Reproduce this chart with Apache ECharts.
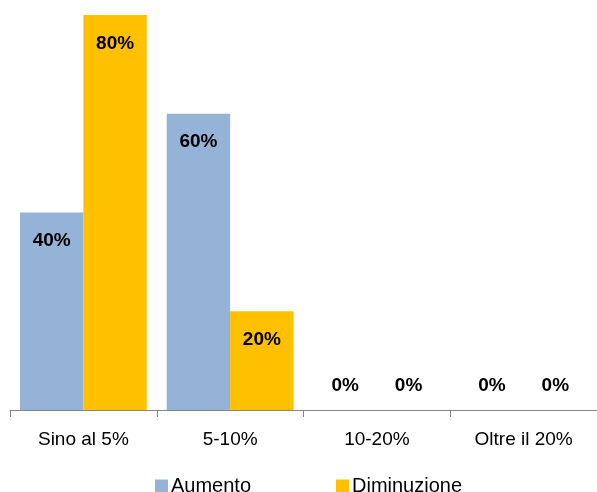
<!DOCTYPE html>
<html><head><meta charset="utf-8">
<script src="https://cdn.jsdelivr.net/npm/echarts@6/dist/echarts.min.js"></script>
<style>html,body{margin:0;padding:0;background:#fff}#c{width:597px;height:492px}</style>
</head><body><div id="c"></div>
<script>
var categories = ['Sino al 5%', '5-10%', '10-20%', 'Oltre il 20%'];
var aumento = [40, 60, 0, 0];
var diminuzione = [80, 20, 0, 0];
var seriesNames = ['Aumento', 'Diminuzione'];
var colors = ['#95B3D7', '#FFC000'];
var FONT = 'Liberation Sans';

function mk(vals) {
  return vals.map(function (v) {
    if (v === 0) return { value: v, label: { position: 'top', distance: 15 } };
    return v;
  });
}
function mkSeries(name, vals, color) {
  return {
    name: name, type: 'bar', data: mk(vals), barGap: '0%', barCategoryGap: '13.6%',
    itemStyle: { color: color },
    label: { show: true, position: 'insideTop', distance: 19, formatter: '{c}%',
      fontFamily: FONT, fontWeight: 'bold', fontSize: 19, color: '#000' }
  };
}
var chart = echarts.init(document.getElementById('c'));
chart.setOption({
  animation: false,
  grid: { left: 10, right: 0, top: 15, bottom: 82, containLabel: false },
  legend: [
    { data: [seriesNames[0]], left: 150, top: 471, itemWidth: 13, itemHeight: 13, itemGap: 5,
      icon: 'rect', textStyle: { fontFamily: FONT, fontSize: 20, color: '#000', padding: [0,0,0,-2] } },
    { data: [seriesNames[1]], left: 331, top: 471, itemWidth: 13, itemHeight: 13, itemGap: 5,
      icon: 'rect', textStyle: { fontFamily: FONT, fontSize: 20, color: '#000', padding: [0,0,0,-2] } }
  ],
  xAxis: {
    type: 'category', data: categories,
    axisLine: { lineStyle: { color: '#868686', width: 1 } },
    axisTick: { show: true, length: 7, lineStyle: { color: '#868686' } },
    axisLabel: { fontFamily: FONT, fontSize: 19, color: '#000', margin: 20 }
  },
  yAxis: { type: 'value', min: 0, max: 80, show: false, splitLine: { show: false } },
  series: [
    mkSeries(seriesNames[0], aumento, colors[0]),
    mkSeries(seriesNames[1], diminuzione, colors[1])
  ]
});
</script></body></html>
